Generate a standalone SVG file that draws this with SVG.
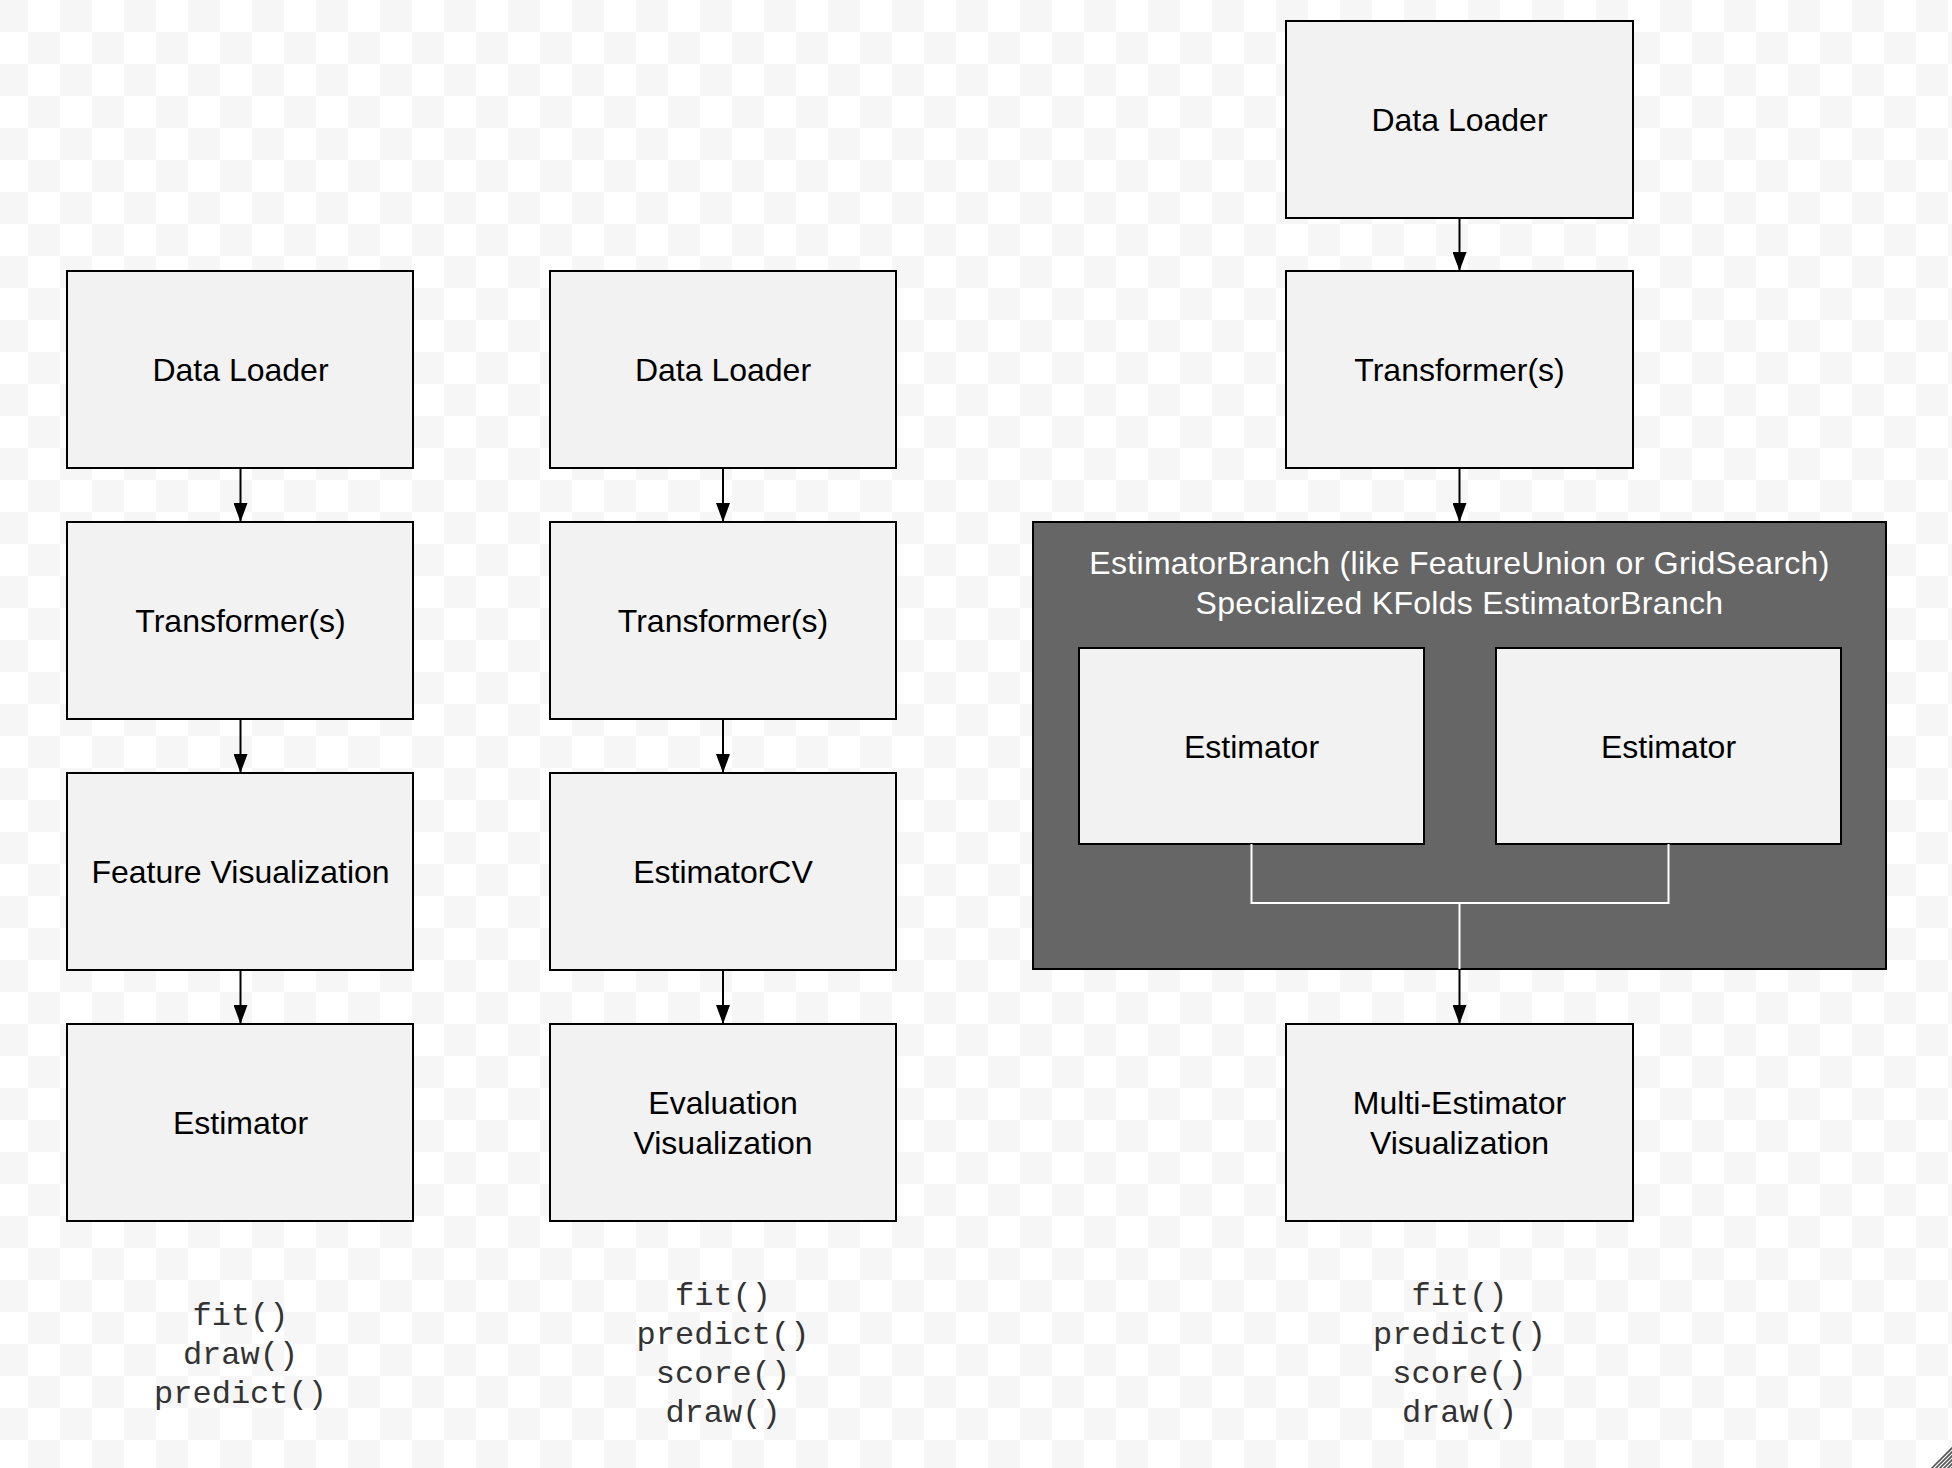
<svg xmlns="http://www.w3.org/2000/svg" width="1952" height="1468" viewBox="0 0 1952 1468">
<defs>
<pattern id="checker" patternUnits="userSpaceOnUse" x="-4" y="0" width="64" height="64">
<rect x="0" y="0" width="64" height="64" fill="#ffffff"/>
<rect x="0" y="0" width="32" height="32" fill="#f6f6f6"/>
<rect x="32" y="32" width="32" height="32" fill="#f6f6f6"/>
</pattern>
<marker id="arrow" markerUnits="userSpaceOnUse" markerWidth="20" markerHeight="14" refX="19" refY="7" orient="auto">
<path d="M0,0 L19,7 L0,14 z" fill="#000"/>
</marker>
<clipPath id="grip"><path d="M1929,1468 L1952,1445 L1952,1468 z"/></clipPath>
</defs>
<style>
.box{fill:#f2f2f2;stroke:#000;stroke-width:2}
.cont{fill:#666666;stroke:#000;stroke-width:2}
.lbl{font-family:"Liberation Sans",Arial,Helvetica,sans-serif;font-size:32px;fill:#000;text-anchor:middle}
.wlbl{font-family:"Liberation Sans",Arial,Helvetica,sans-serif;font-size:32px;fill:#fff;text-anchor:middle;letter-spacing:0.3px}
.mono{font-family:"Liberation Mono","Courier New",monospace;font-size:32px;fill:#333;text-anchor:middle}
.edge{stroke:#000;stroke-width:2;fill:none}
.wedge{stroke:#fff;stroke-width:2;fill:none}
</style>
<rect x="0" y="0" width="1952" height="1468" fill="url(#checker)"/>

<!-- Column 1 -->
<g id="c1-dataloader"><rect class="box" x="67" y="271" width="346" height="197"/><text class="lbl" x="240.5" y="381">Data Loader</text></g>
<g id="c1-transformer"><rect class="box" x="67" y="522" width="346" height="197"/><text class="lbl" x="240.5" y="632">Transformer(s)</text></g>
<g id="c1-featurevis"><rect class="box" x="67" y="773" width="346" height="197"/><text class="lbl" x="240.5" y="883">Feature Visualization</text></g>
<g id="c1-estimator"><rect class="box" x="67" y="1024" width="346" height="197"/><text class="lbl" x="240.5" y="1134">Estimator</text></g>
<g id="c1-methods"><text class="mono" x="240.5" y="1325">fit()</text><text class="mono" x="240.5" y="1364">draw()</text><text class="mono" x="240.5" y="1403">predict()</text></g>

<!-- Column 2 -->
<g id="c2-dataloader"><rect class="box" x="550" y="271" width="346" height="197"/><text class="lbl" x="723" y="381">Data Loader</text></g>
<g id="c2-transformer"><rect class="box" x="550" y="522" width="346" height="197"/><text class="lbl" x="723" y="632">Transformer(s)</text></g>
<g id="c2-estimatorcv"><rect class="box" x="550" y="773" width="346" height="197"/><text class="lbl" x="723" y="883">EstimatorCV</text></g>
<g id="c2-evalvis"><rect class="box" x="550" y="1024" width="346" height="197"/><text class="lbl" x="723" y="1114">Evaluation</text><text class="lbl" x="723" y="1154">Visualization</text></g>
<g id="c2-methods"><text class="mono" x="723" y="1305">fit()</text><text class="mono" x="723" y="1344">predict()</text><text class="mono" x="723" y="1383">score()</text><text class="mono" x="723" y="1422">draw()</text></g>

<!-- Column 3 -->
<g id="c3-dataloader"><rect class="box" x="1286" y="21" width="347" height="197"/><text class="lbl" x="1459.5" y="131">Data Loader</text></g>
<g id="c3-transformer"><rect class="box" x="1286" y="271" width="347" height="197"/><text class="lbl" x="1459.5" y="381">Transformer(s)</text></g>
<g id="c3-branch">
<rect class="cont" x="1033" y="522" width="853" height="447"/>
<text class="wlbl" x="1459.5" y="574">EstimatorBranch (like FeatureUnion or GridSearch)</text>
<text class="wlbl" x="1459.5" y="614">Specialized KFolds EstimatorBranch</text>
</g>
<g id="c3-estimator-a"><rect class="box" x="1079" y="648" width="345" height="196"/><text class="lbl" x="1251.5" y="757.5">Estimator</text></g>
<g id="c3-estimator-b"><rect class="box" x="1496" y="648" width="345" height="196"/><text class="lbl" x="1668.5" y="757.5">Estimator</text></g>
<g id="c3-multivis"><rect class="box" x="1286" y="1024" width="347" height="197"/><text class="lbl" x="1459.5" y="1114">Multi-Estimator</text><text class="lbl" x="1459.5" y="1154">Visualization</text></g>
<g id="c3-methods"><text class="mono" x="1459.5" y="1305">fit()</text><text class="mono" x="1459.5" y="1344">predict()</text><text class="mono" x="1459.5" y="1383">score()</text><text class="mono" x="1459.5" y="1422">draw()</text></g>

<!-- Connectors -->
<g id="connectors">
<line class="edge" x1="240.5" y1="468" x2="240.5" y2="522" marker-end="url(#arrow)"/>
<line class="edge" x1="240.5" y1="719" x2="240.5" y2="773" marker-end="url(#arrow)"/>
<line class="edge" x1="240.5" y1="970" x2="240.5" y2="1024" marker-end="url(#arrow)"/>
<line class="edge" x1="723" y1="468" x2="723" y2="522" marker-end="url(#arrow)"/>
<line class="edge" x1="723" y1="719" x2="723" y2="773" marker-end="url(#arrow)"/>
<line class="edge" x1="723" y1="970" x2="723" y2="1024" marker-end="url(#arrow)"/>
<line class="edge" x1="1459.5" y1="218" x2="1459.5" y2="271" marker-end="url(#arrow)"/>
<line class="edge" x1="1459.5" y1="468" x2="1459.5" y2="522" marker-end="url(#arrow)"/>
<path class="wedge" d="M1251.5,844 V903 H1668.5 V844 M1459.5,903 V969"/>
<line class="edge" x1="1459.5" y1="969" x2="1459.5" y2="1024" marker-end="url(#arrow)"/>
</g>

<!-- resize grip -->
<g clip-path="url(#grip)" stroke="#555" stroke-width="1.6">
<line x1="1920" y1="1480" x2="1964" y2="1436"/>
<line x1="1924" y1="1480" x2="1968" y2="1436"/>
<line x1="1928" y1="1480" x2="1972" y2="1436"/>
<line x1="1932" y1="1480" x2="1976" y2="1436"/>
<line x1="1936" y1="1480" x2="1980" y2="1436"/>
<line x1="1940" y1="1480" x2="1984" y2="1436"/>
<line x1="1944" y1="1480" x2="1988" y2="1436"/>
</g>
</svg>
